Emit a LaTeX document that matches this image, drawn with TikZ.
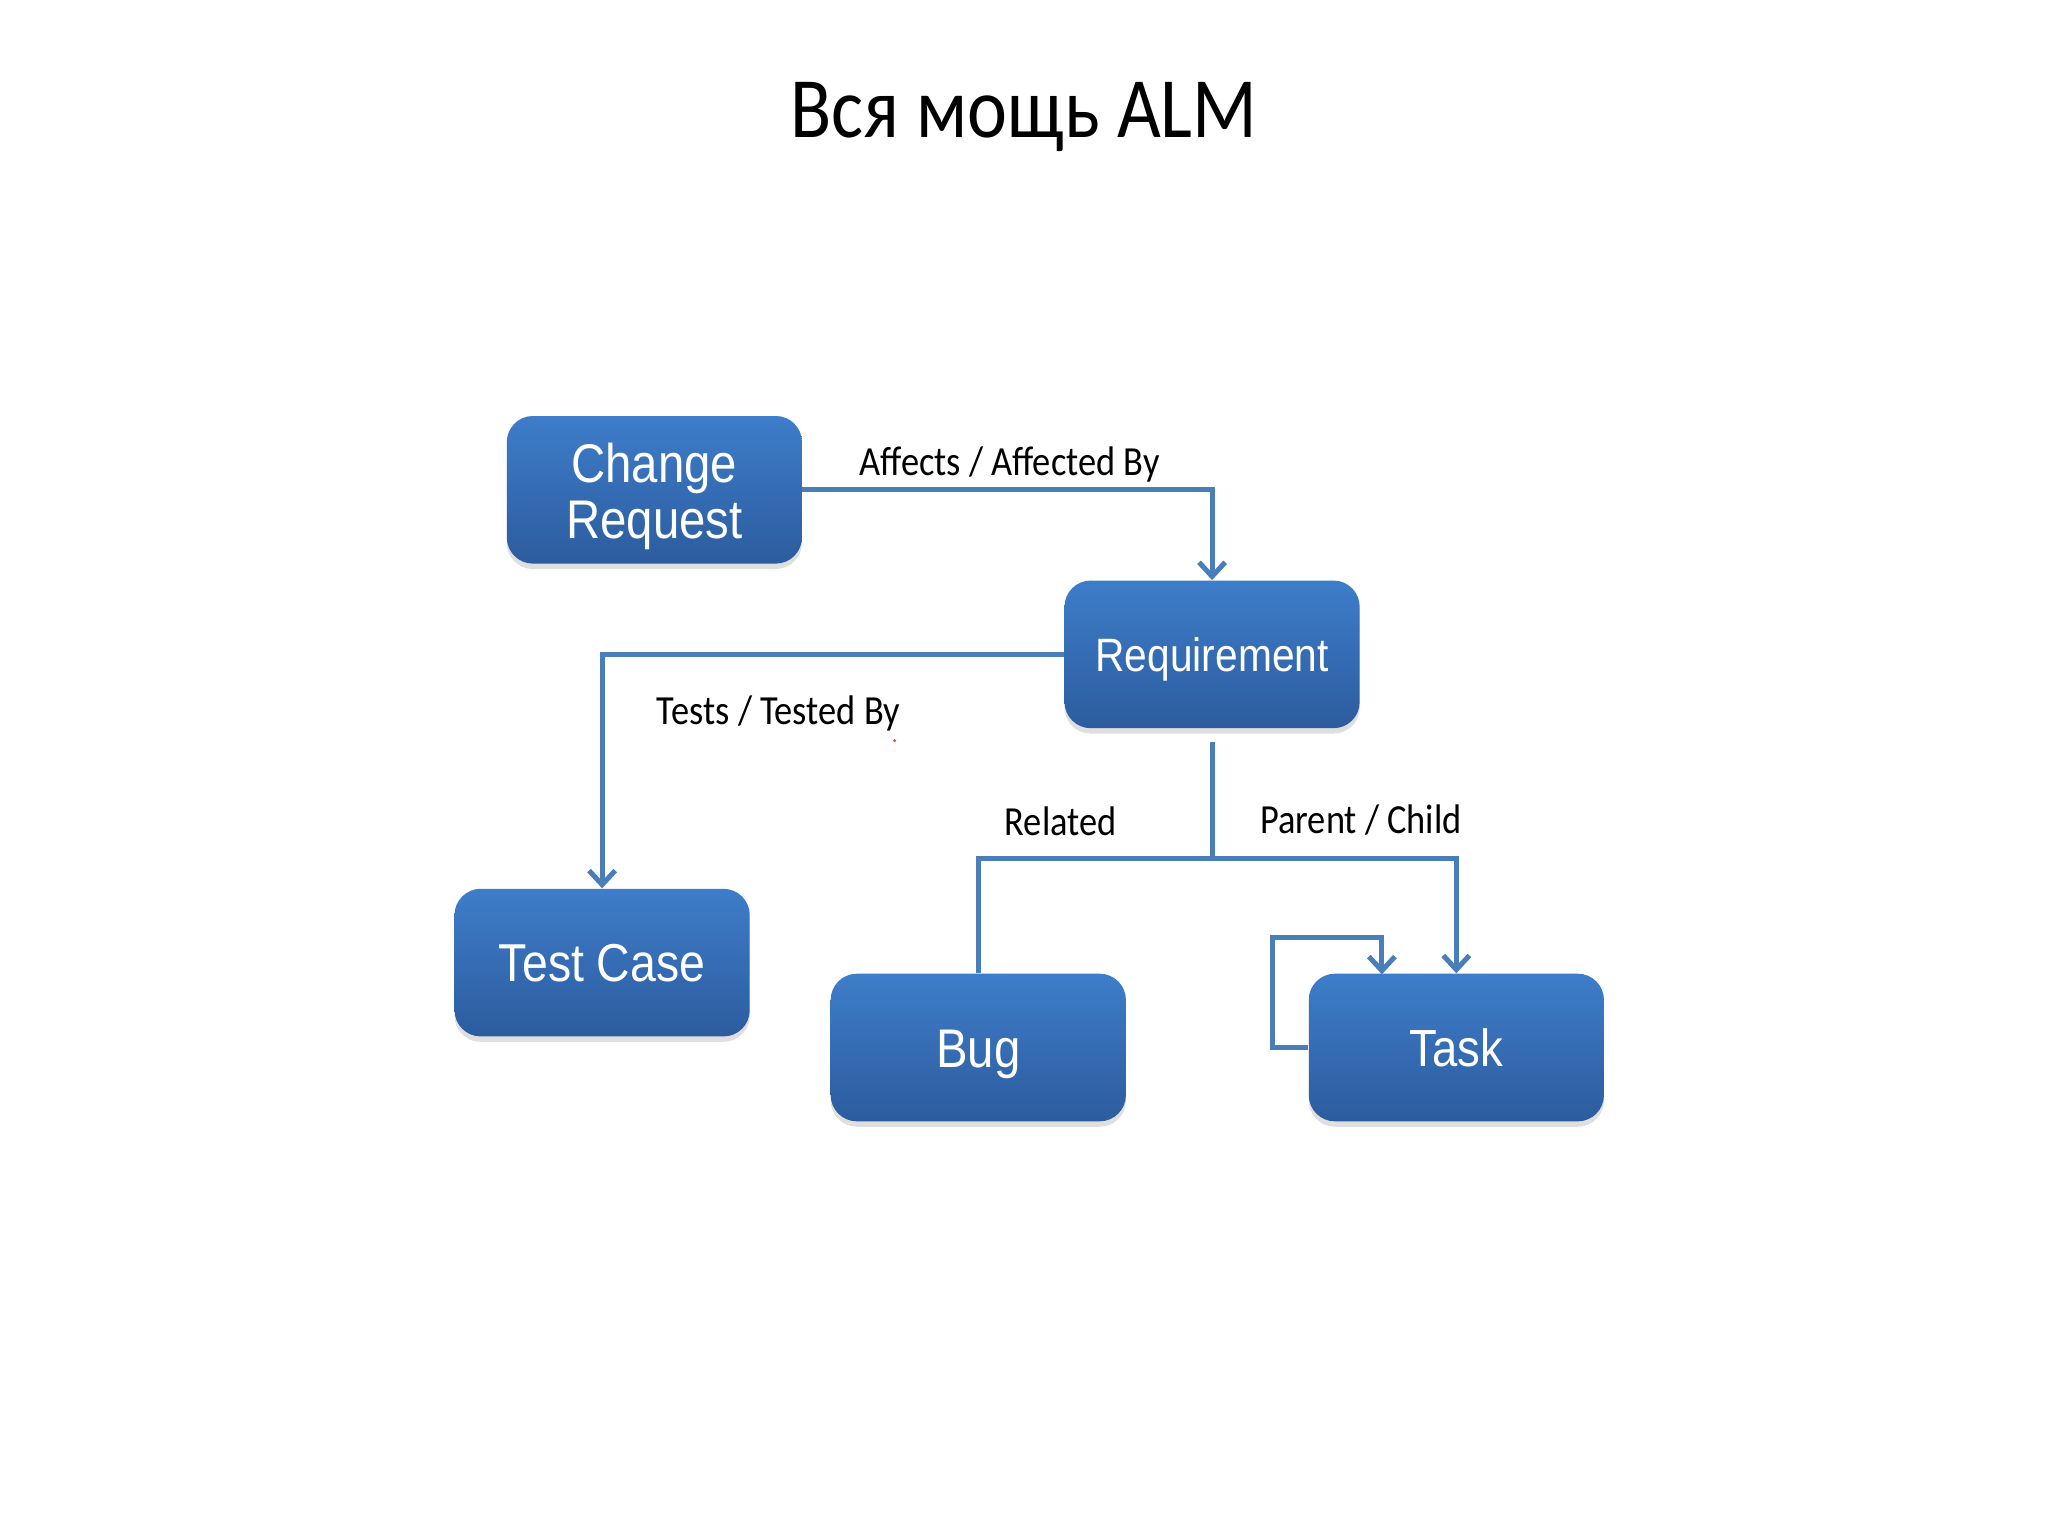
\documentclass[tikz,border=0pt]{standalone}
\usepackage{fontspec}
\setmainfont[FakeStretch=0.88]{Carlito}
\newfontfamily\boxfont[FakeStretch=0.87]{Liberation Sans}
\usetikzlibrary{arrows.meta,shadows}
\definecolor{linec}{HTML}{4A7EBB}
\definecolor{boxtop}{HTML}{3E7DCA}
\definecolor{boxmid}{HTML}{3871BC}
\definecolor{boxbot}{HTML}{2C5C9E}
\begin{document}
\begin{tikzpicture}[x=0.6pt,y=-0.6pt,
  box/.style={rounded corners=12pt, minimum width=135.6pt, minimum height=67.8pt,
    top color=boxtop, middle color=boxmid, bottom color=boxbot, draw=none,
    text=white, font=\boxfont\fontsize{24}{26}\selectfont, align=center, inner sep=0pt,
    drop shadow={shadow xshift=0pt, shadow yshift=-2.5pt, opacity=0.25}},
  one/.style={text height=#1, text depth=0pt},
  conn/.style={draw=linec, line width=2.3pt},
  tip/.style={-{Straight Barb[length=6.5pt,width=12pt]}},
  lbl/.style={font=\fontsize{19}{22}\selectfont, anchor=base, inner sep=0pt}]
\fill[white] (0,0) rectangle (1568,1175.2);
\useasboundingbox (0,0) rectangle (1568,1175.2);

\node[anchor=base, inner sep=0pt, font=\fontsize{39.5}{44}\selectfont] (title) at (784,105) {Вся мощь ALM};

\node[box, font=\boxfont\fontsize{25}{25.8}\selectfont] (cr) at (501,375) {\rule{0pt}{24pt}Change\\Request};
\node[box, one=15.4pt, font=\boxfont\fontsize{21.5}{25}\selectfont] (req) at (928,501) {Requirement};
\node[box, one=17.5pt, font=\boxfont\fontsize{24.5}{26}\selectfont] (tc) at (461,737) {Test Case};
\node[box, one=17.9pt, font=\boxfont\fontsize{25}{26}\selectfont] (bug) at (749,802) {Bug};
\node[box, one=17.2pt] (task) at (1115,802) {Task};

\coordinate (j) at (928,657);
\coordinate (lp) at (974,718);
\coordinate (le) at (1058,746);

\draw[conn,tip] (cr.east) -| (req.north);
\draw[conn,tip] (req.west) -| (tc.north);
\draw[conn, shorten <=6pt] (req.south) -- (j);
\draw[conn] (j) -| (bug.north);
\draw[conn,tip] (j) -| (task.north);
\draw[conn,tip] (task.west) -| (lp) -| (le);

\node[lbl] (l1) at (773,364) {Affects / Affected By};
\node[lbl] (l2) at (596,555) {Tests / Tested By};
\node[lbl] (l3) at (812,640) {Related};
\node[lbl] (l4) at (1042,638) {Parent / Child};

\fill[red!80] (685,567) circle (1.2);
\end{tikzpicture}
\end{document}
